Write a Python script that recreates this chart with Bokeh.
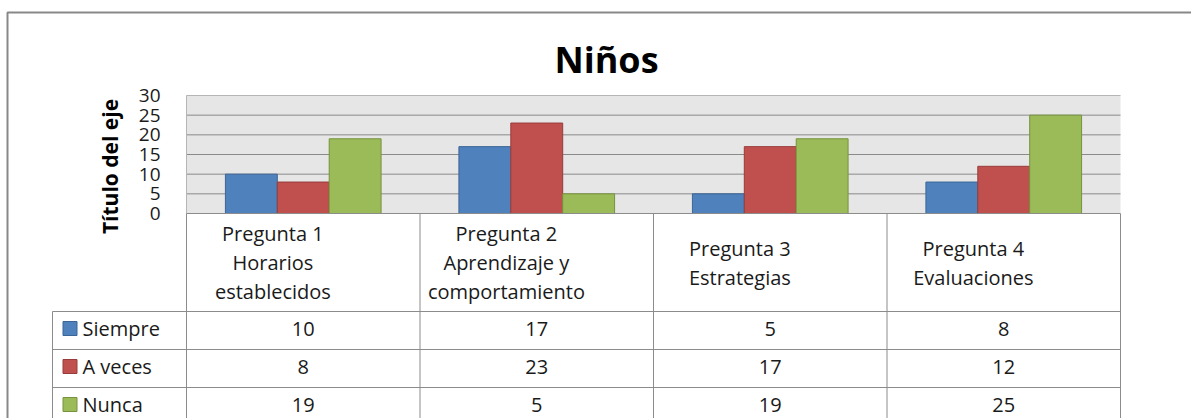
from bokeh.plotting import figure
from bokeh.models import Range1d, LinearAxis, FixedTicker
from bokeh.embed import file_html
from bokeh.resources import INLINE
from bokeh.core.properties import value

# ---------------- data ----------------
chart_title = "Niños"
axis_title = "Título del eje"
categories = [
    "Pregunta 1\nHorarios\nestablecidos",
    "Pregunta 2\nAprendizaje y\ncomportamiento",
    "Pregunta 3\nEstrategias",
    "Pregunta 4\nEvaluaciones",
]
series_names = ["Siempre", "A veces", "Nunca"]
siempre = [10, 17, 5, 8]
a_veces = [8, 23, 17, 12]
nunca = [19, 5, 19, 25]
y_ticks = [0, 5, 10, 15, 20, 25, 30]

series_values = [siempre, a_veces, nunca]
fills = ["#4F81BD", "#C0504D", "#9BBB59"]
edges = ["#3B6596", "#973C3A", "#77933D"]

FONT = "Open Sans"
TXT = "#1a1a1a"
GRID = "#8A8A8A"
TLINE = "#8C8C8C"

# ---------------- layout (canvas pixels) ----------------
W, H = 1191, 418
PX0, PX1 = 186, 1120      # plot-area left / right
PY0, PY1 = 95, 213        # plot-area top / bottom
HEADER_H = 98             # table header height
ROW_H = 38                # table row height
LEG_W = 134               # legend column width

n = len(categories)
ymax = y_ticks[-1]
ux = (PX1 - PX0) / n
uy = (PY1 - PY0) / ymax
x_start = -PX0 / ux
x_end = n + (W - PX1) / ux
y_end = ymax + PY0 / uy
y_start = -(H - PY1) / uy


def down(px):
    """data y of a point px pixels below the category baseline"""
    return -px / uy


p = figure(width=W, height=H,
           x_range=Range1d(x_start, x_end), y_range=Range1d(y_start, y_end),
           x_axis_type=None, y_axis_type=None,
           output_backend="svg", toolbar_location=None,
           min_border=0, outline_line_color=None,
           background_fill_color="white", border_fill_color="white")

# outer chart border
bx = x_start + 7.0 / ux
by = y_end - 12.0 / uy
p.line(x=[bx, bx, x_end], y=[y_start, by, by], line_color="#888888", line_width=2)

# chart title
p.text(x=[x_start + 606 / ux], y=[y_end - 58.5 / uy], text=[chart_title],
       text_font=value(FONT), text_font_style="bold", text_font_size="36px",
       text_align="center", text_baseline="middle", text_color="#000000")

# plot area
p.quad(left=0, right=n, bottom=0, top=ymax, fill_color="#E6E6E6", line_color=None)
inner = y_ticks[1:-1]
p.segment(x0=[0] * len(inner), x1=[n] * len(inner), y0=inner, y1=inner,
          line_color=GRID, line_width=1)
p.line(x=[0, 0, n], y=[0, ymax, ymax], line_color="#B5B5B5", line_width=1)

# bars (Excel gap width 150%)
bw = 1 / (len(series_values) + 1.5)
for s, vals in enumerate(series_values):
    xs = [i + 0.5 + (s - 1) * bw for i in range(n)]
    p.vbar(x=xs, top=vals, bottom=0, width=bw,
           fill_color=fills[s], line_color=edges[s], line_width=1)

# y axis at the plot-area edge
yax = LinearAxis(fixed_location=0, ticker=FixedTicker(ticks=y_ticks),
                 bounds=(-0.2 * ymax, ymax), axis_label=axis_title)
yax.axis_line_color = None
yax.major_tick_line_color = None
yax.minor_tick_line_color = None
yax.major_tick_out = 0
yax.major_tick_in = 0
yax.major_label_standoff = 26
yax.major_label_text_font = FONT
yax.major_label_text_font_size = "19px"
yax.major_label_text_color = TXT
yax.axis_label_text_font = FONT
yax.axis_label_text_font_style = "bold"
yax.axis_label_text_font_size = "21px"
yax.axis_label_text_color = "#000000"
yax.axis_label_standoff = 12
p.add_layout(yax, "left")

# ---------------- data table ----------------
leg_left = -LEG_W / ux
hb = down(HEADER_H)
row_bottoms = [down(HEADER_H + ROW_H * (k + 1)) for k in range(len(series_names))]

# vertical lines
vx = list(range(n + 1))
p.segment(x0=vx, x1=vx, y0=[0] * len(vx), y1=[y_start] * len(vx),
          line_color=TLINE, line_width=1)
p.segment(x0=[leg_left], x1=[leg_left], y0=[hb], y1=[y_start],
          line_color=TLINE, line_width=1)
# horizontal lines
p.segment(x0=[0], x1=[n], y0=[0], y1=[0], line_color=TLINE, line_width=1)
hy = [hb] + row_bottoms
p.segment(x0=[leg_left] * len(hy), x1=[n] * len(hy), y0=hy, y1=hy,
          line_color=TLINE, line_width=1)

# header texts
hx, hyt, htx = [], [], []
for i, cat in enumerate(categories):
    lines = cat.split("\n")
    m = len(lines)
    for j, ln in enumerate(lines):
        hx.append(i + 0.5 - 0.13)
        hyt.append(down(HEADER_H / 2 + (j - (m - 1) / 2) * 29))
        htx.append(ln)
p.text(x=hx, y=hyt, text=htx, text_font=value(FONT), text_font_size="20px",
       text_align="center", text_baseline="middle", text_color=TXT)

# value cells and legend keys
for s, vals in enumerate(series_values):
    yc = down(HEADER_H + ROW_H * s + ROW_H / 2 - 2)
    p.text(x=[i + 0.5 for i in range(n)], y=[yc] * n, text=[str(v) for v in vals],
           text_font=value(FONT), text_font_size="20px",
           text_align="center", text_baseline="middle", text_color=TXT)
    p.scatter(x=[leg_left + 17.5 / ux], y=[yc], marker="square", size=14,
              fill_color=fills[s], line_color=edges[s], line_width=1)
    p.text(x=[leg_left + 30 / ux], y=[yc], text=[series_names[s]],
           text_font=value(FONT), text_font_size="20px",
           text_align="left", text_baseline="middle", text_color=TXT)

open("out.html", "w").write(file_html(p, INLINE))
